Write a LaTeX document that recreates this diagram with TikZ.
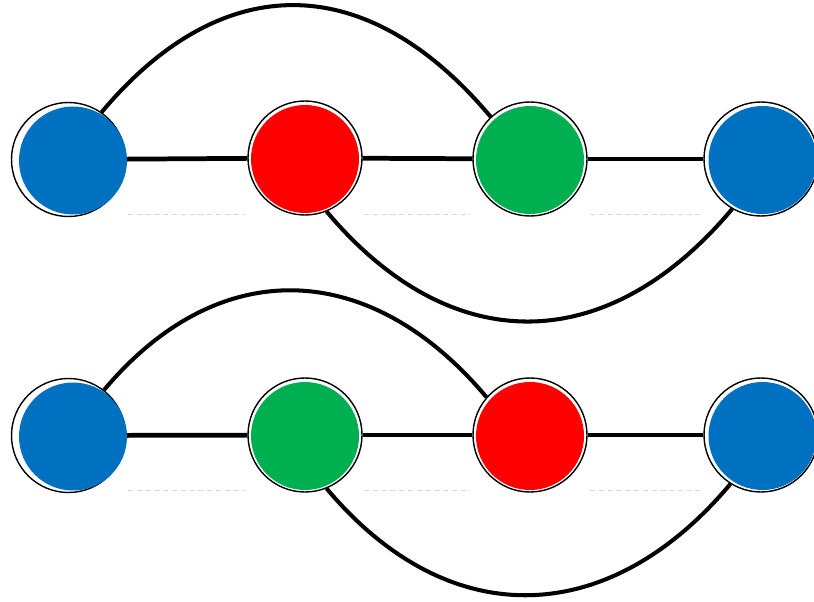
\documentclass[tikz,border=0pt]{standalone}
\usetikzlibrary{positioning,backgrounds}
\definecolor{nodeblue}{RGB}{0,112,192}
\definecolor{nodered}{RGB}{255,0,0}
\definecolor{nodegreen}{RGB}{0,176,80}
\tikzset{
  ring/.style={circle, draw, line width=0.8pt, fill=white, minimum size=2.28cm, inner sep=0pt},
  ball/.style={circle, fill=#1, minimum size=2.16cm, inner sep=0pt},
  link/.style={line width=2.3pt},
  bar/.style={line width=2.7pt},
  faint/.style={gray!30, line width=0.3pt, densely dashed}
}
\begin{document}
\begin{tikzpicture}
\useasboundingbox (0,0) rectangle (16.28,-12.04);

% vertices: name / x / y / colour / shift of the fill
\foreach \n/\x/\y/\c/\sh in {a1/1.37/-3.19/nodeblue/0.09, a2/6.10/-3.16/nodered/0, a3/10.60/-3.18/nodegreen/0, a4/15.22/-3.18/nodeblue/0.03,
                             b1/1.37/-8.71/nodeblue/0.09, b2/6.10/-8.70/nodegreen/0, b3/10.60/-8.70/nodered/0, b4/15.22/-8.70/nodeblue/0.03}
{
\node[ring] (\n) at (\x,\y) {};
\node[ball=\c] at ([xshift=\sh cm, yshift=-0.02cm]\n.center) {};
}

\begin{scope}[on background layer]
\foreach \i/\j in {a1/a2, a2/a3, a3/a4, b1/b2, b2/b3, b3/b4}
\draw[bar] (\i) -- (\j);

\draw[link] (a1.55) to[out=50, in=130, looseness=1.25] (a3.133);
\draw[link] (a2.-68) to[out=-50, in=-130, looseness=1.22] (a4.-120);
\draw[link] (b1.52) to[out=50, in=130, looseness=1.2] (b3.139);
\draw[link] (b2.-68) to[out=-50, in=-130, looseness=1.2] (b4.-122);
\end{scope}

% faint leftovers under the edges
\foreach \y in {-4.28, -9.80}
\foreach \p/\q in {2.56/4.90, 7.28/9.40, 11.80/14.00}
\draw[faint] (\p,\y) -- (\q,\y);

\end{tikzpicture}
\end{document}
